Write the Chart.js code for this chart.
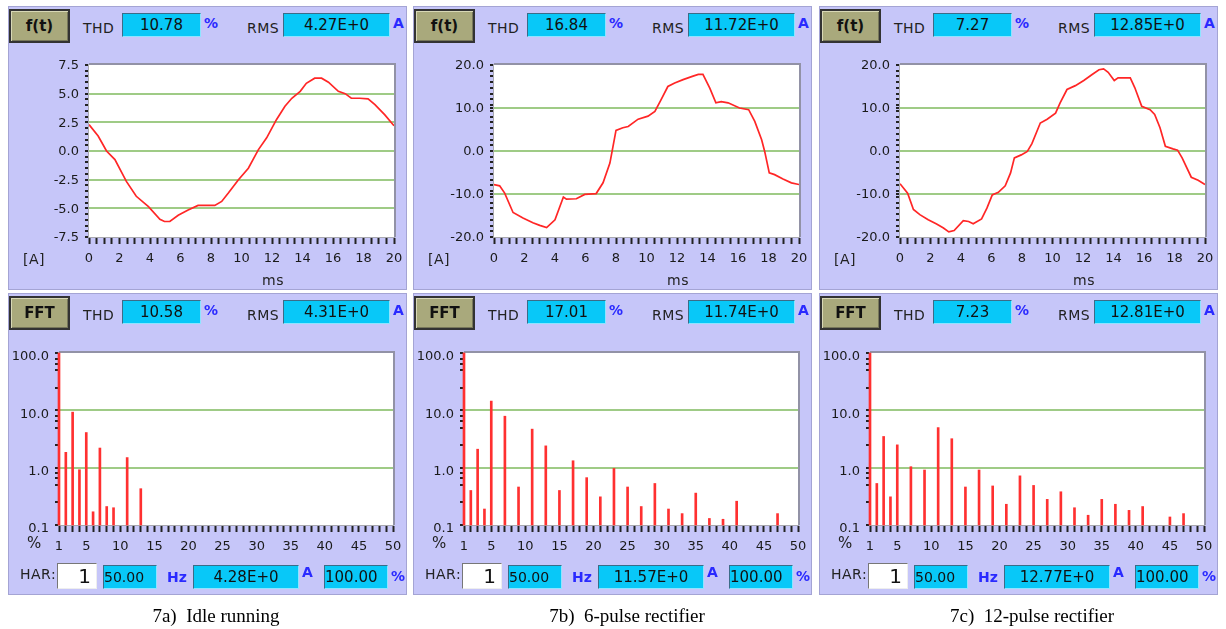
<!DOCTYPE html>
<html>
<head>
<meta charset="utf-8">
<script src="https://cdn.jsdelivr.net/npm/chart.js@4.4.1/dist/chart.umd.min.js"></script>
<style>
  html, body { margin: 0; padding: 0; background: #fff; }
  body { width: 1226px; height: 629px; position: relative; overflow: hidden; font-family: "DejaVu Sans", sans-serif; }
  .panel { position: absolute; width: 399px; background: #c6c6f9; box-shadow: inset 0 0 0 1px #a4a4d4; }
  .panel div { position: absolute; white-space: nowrap; }
  .panel canvas { position: absolute; left: 0; }
  .btn { background: #a9a97c; border: 2px solid #333; box-sizing: border-box; font-weight: bold; font-size: 15px;
         text-align: center; color: #111; box-shadow: inset 1px 1px 0 #d8d8b6, inset -1px -1px 0 #77775a; }
  .lbl { font-size: 14px; color: #222; letter-spacing: 0.5px; }
  .val { background: #08c8f8; box-sizing: border-box; border: 1px solid; border-color: #3b6c88 #8ee4ff #8ee4ff #3b6c88;
         font-size: 15px; color: #111; text-align: center; }
  .unit { font-size: 14px; color: #2a2aff; font-weight: bold; }
  .inp { background: #fff; box-sizing: border-box; border: 1px solid; border-color: #777 #eee #eee #777;
         font-size: 20px; text-align: right; padding-right: 5px; color: #111; }
  .cap { position: absolute; font-family: "Liberation Serif", "Times New Roman", serif; font-size: 19px; color: #000;
         transform: translateX(-50%); white-space: pre; }
</style>
</head>
<body>
<script>
// ---- measured current waveforms, one period (time in ms, current in A) ----
const idleTime = [0, 0.6, 1.15, 1.7, 2.45, 3.1, 3.9, 4.65, 4.95, 5.3, 5.85, 6.5, 7.15, 7.7, 8.25, 8.7, 9.15, 9.8,
  10.45, 11.1, 11.65, 12.3, 12.85, 13.3, 13.85, 14.25, 14.8, 15.25, 15.7, 16.35, 16.8, 17.2, 17.75, 18.3, 18.75, 19.4, 20];
const idleCurrent = [2.3, 1.3, 0.0, -0.75, -2.65, -3.95, -4.85, -5.95, -6.15, -6.15, -5.6, -5.15, -4.75, -4.75, -4.75, -4.4, -3.65, -2.5,
  -1.5, 0.1, 1.15, 2.75, 3.9, 4.6, 5.2, 5.9, 6.35, 6.35, 6.0, 5.2, 5.0, 4.6, 4.6, 4.55, 4.05, 3.15, 2.2];

const sixPulseTime = [0, 0.37, 0.7, 1.25, 1.9, 2.55, 3.0, 3.45, 4.0, 4.55, 4.75, 5.4, 5.95, 6.7, 7.15, 7.6, 8.0, 8.45, 8.8,
  9.45, 10.1, 10.55, 10.95, 11.4, 11.85, 12.4, 13.05, 13.4, 13.7, 14.15, 14.55, 14.9, 15.35, 16.1, 16.7, 17.1, 17.55,
  17.75, 18.05, 18.4, 18.95, 19.5, 20];
const sixPulseCurrent = [-7.8, -8.1, -9.8, -14.3, -15.6, -16.7, -17.3, -17.8, -16.0, -10.7, -11.2, -11.1, -10.1, -9.9, -7.4, -2.8, 4.8, 5.4, 5.7,
  7.4, 8.1, 9.2, 11.9, 15.0, 15.8, 16.6, 17.4, 17.8, 17.8, 14.6, 11.2, 11.5, 11.2, 10.0, 9.6, 6.9, 2.6,
  -0.1, -5.1, -5.5, -6.5, -7.4, -7.8];

const twelvePulseTime = [0, 0.5, 0.88, 1.3, 1.85, 2.4, 2.85, 3.2, 3.55, 4.15, 4.5, 4.8, 5.35, 5.7, 6.05, 6.45, 6.9, 7.25,
  7.5, 7.95, 8.35, 8.65, 9.2, 9.65, 10.2, 10.5, 10.95, 11.5, 12.05, 12.6, 13.05, 13.35, 13.65, 14.05, 14.3, 15.1, 15.4,
  15.85, 16.4, 16.7, 17.05, 17.4, 17.9, 18.2, 18.5, 19.1, 19.55, 20];
const twelvePulseCurrent = [-7.6, -9.8, -13.6, -14.8, -16.0, -17.0, -17.9, -18.8, -18.5, -16.2, -16.4, -16.9, -15.8, -13.3, -10.2, -9.6, -8.1, -5.1,
  -1.6, -0.9, -0.1, 1.7, 6.5, 7.4, 8.8, 11.2, 14.3, 15.2, 16.4, 17.8, 18.9, 19.1, 18.3, 16.4, 17.0, 17.0, 14.7,
  10.4, 9.6, 8.5, 5.4, 1.1, 0.5, 0.2, -1.6, -6.1, -6.8, -7.8];

// ---- harmonic spectra (order, level in % of fundamental) ----
const idleOrders = [1, 2, 3, 4, 5, 6, 7, 8, 9, 11, 13];
const idleLevels = [100, 1.85, 9.3, 0.92, 4.1, 0.17, 2.2, 0.21, 0.2, 1.5, 0.43];

const sixPulseOrders = [1, 2, 3, 4, 5, 7, 9, 11, 13, 15, 17, 19, 21, 23, 25, 27, 29, 31, 33, 35, 37, 39, 41, 47];
const sixPulseLevels = [100, 0.40, 2.1, 0.19, 14.5, 7.9, 0.46, 4.7, 2.4, 0.40, 1.32, 0.67, 0.31, 0.97, 0.46, 0.21, 0.53, 0.19, 0.158, 0.36, 0.13, 0.126, 0.26, 0.158];

const twelvePulseOrders = [1, 2, 3, 4, 5, 7, 9, 11, 13, 15, 17, 19, 21, 23, 25, 27, 29, 31, 33, 35, 37, 39, 41, 45, 47];
const twelvePulseLevels = [100, 0.53, 3.5, 0.31, 2.5, 1.04, 0.91, 5.0, 3.2, 0.46, 0.91, 0.48, 0.23, 0.72, 0.49, 0.28, 0.38, 0.2, 0.148, 0.28, 0.23, 0.18, 0.21, 0.138, 0.158];

// ---- instrument readouts ----
const captions = ['7a)  Idle running', '7b)  6-pulse rectifier', '7c)  12-pulse rectifier'];
const waveThd = ['10.78', '16.84', '7.27'];
const waveRms = ['4.27E+0', '11.72E+0', '12.85E+0'];
const spectrumThd = ['10.58', '17.01', '7.23'];
const spectrumRms = ['4.31E+0', '11.74E+0', '12.81E+0'];
const harmonicAmp = ['4.28E+0', '11.57E+0', '12.77E+0'];
const harmonicNo = ['1', '1', '1'];
const harmonicFreq = ['50.00', '50.00', '50.00'];
const harmonicPct = ['100.00', '100.00', '100.00'];

// ---- axis ticks ----
const waveFullScale = [7.5, 20, 20];
const waveLabelStep = [2.5, 10, 10];
const timeTicks = Array.from({ length: 41 }, (_, i) => i * 0.5);
const timeLabels = [0, 2, 4, 6, 8, 10, 12, 14, 16, 18, 20];
const orderTicks = Array.from({ length: 50 }, (_, i) => i + 1);
const orderLabels = [1, 5, 10, 15, 20, 25, 30, 35, 40, 45, 50];
const levelTicks = [0.1, 0.25, 0.5, 0.65, 0.8, 1, 2.5, 5, 6.5, 8, 10, 25, 50, 65, 80, 100];
const levelLabels = [0.1, 1, 10, 100];

const waveSets = [[idleTime, idleCurrent], [sixPulseTime, sixPulseCurrent], [twelvePulseTime, twelvePulseCurrent]];
const spectrumSets = [[idleOrders, idleLevels], [sixPulseOrders, sixPulseLevels], [twelvePulseOrders, twelvePulseLevels]];

// ---- layout ----
const PANEL_LEFT = [8, 413, 819];
const CAPTION_X = [216, 627, 1032];

Chart.defaults.font.family = '"DejaVu Sans", sans-serif';
Chart.defaults.font.size = 13;
Chart.defaults.color = '#1a1a1a';

const near = (a, b) => Math.abs(a - b) < 1e-6;
const inList = (list, v) => list.some(m => near(m, v));
const GRID_GREEN = '#9fcb86';
const NONE = 'rgba(0,0,0,0)';

// white plotting field with its frame
const plotFrame = {
  id: 'plotFrame',
  beforeDraw(chart) {
    const { ctx, chartArea: a } = chart;
    ctx.save();
    ctx.fillStyle = '#fff';
    ctx.fillRect(a.left, a.top, a.right - a.left, a.bottom - a.top);
    ctx.restore();
  },
  beforeDatasetsDraw(chart) {
    const { ctx, chartArea: a } = chart;
    ctx.save();
    ctx.strokeStyle = '#a8a8b0';
    ctx.lineWidth = 1;
    ctx.strokeRect(a.left - 0.5, a.top - 0.5, a.right - a.left + 1, a.bottom - a.top + 1);
    ctx.strokeStyle = '#9292a6';
    ctx.lineWidth = 2;
    ctx.beginPath();
    ctx.moveTo(a.left, a.top - 1);
    ctx.lineTo(a.right + 1, a.top - 1);
    ctx.lineTo(a.right + 1, a.bottom);
    ctx.stroke();
    ctx.restore();
  }
};

const baseOptions = {
  responsive: false,
  animation: false,
  events: [],
  plugins: { legend: { display: false }, tooltip: { enabled: false } }
};

// bottom-axis tick marks: a short dash just under the frame; long tick length pushes the labels down
const bottomTicks = { drawOnChartArea: false, tickLength: 10, tickWidth: 2, tickColor: '#222', tickBorderDash: [0, 1, 6, 20] };

function drawWave(canvas, times, amps, full, step) {
  const isMajor = v => near(v / step, Math.round(v / step));
  // 30 fine divisions over the full span, plus every labelled value
  const yTicks = Array.from({ length: 31 }, (_, i) => +((i - 15) * full / 15).toFixed(6));
  for (let v = -full; v <= full + 1e-9; v += step) {
    const r = +v.toFixed(6);
    if (!inList(yTicks, r)) yTicks.push(r);
  }
  yTicks.sort((a, b) => a - b);
  new Chart(canvas, {
    type: 'line',
    data: {
      datasets: [{
        data: times.map((t, i) => ({ x: t, y: amps[i] })),
        borderColor: '#ff2626', borderWidth: 1.7, pointRadius: 0, tension: 0, fill: false
      }]
    },
    options: Object.assign({}, baseOptions, {
      layout: { padding: { top: 14, right: 13, left: 0, bottom: 0 } },
      scales: {
        x: {
          type: 'linear', min: 0, max: 20,
          afterBuildTicks: s => { s.ticks = timeTicks.map(v => ({ value: v })); },
          afterFit: s => { s.height = 53; },
          border: { display: false },
          grid: bottomTicks,
          ticks: { autoSkip: false, maxRotation: 0, padding: 4, callback: v => inList(timeLabels, v) ? String(v) : '' }
        },
        y: {
          type: 'linear', min: -full, max: full,
          afterBuildTicks: s => { s.ticks = yTicks.map(v => ({ value: v })); },
          afterFit: s => { s.width = 81; },
          border: { display: false },
          grid: {
            color: c => (isMajor(c.tick.value) && Math.abs(c.tick.value) < full - 1e-6) ? GRID_GREEN : NONE,
            lineWidth: 2, tickLength: 7, tickWidth: 2, tickColor: '#222', tickBorderDash: [0, 3, 4, 20]
          },
          ticks: { autoSkip: false, padding: 3, labelOffset: 1, callback: v => isMajor(v) ? v.toFixed(1) : '' }
        }
      }
    }),
    plugins: [plotFrame]
  });
}

function drawSpectrum(canvas, orders, levels) {
  new Chart(canvas, {
    type: 'bar',
    data: {
      datasets: [{
        data: orders.map((h, i) => ({ x: h, y: levels[i] })),
        backgroundColor: '#ff3030', barThickness: 2, clip: false
      }]
    },
    options: Object.assign({}, baseOptions, {
      layout: { padding: { top: 15, right: 14, left: 0, bottom: 0 } },
      scales: {
        x: {
          type: 'linear', min: 1, max: 50, offset: false,
          afterBuildTicks: s => { s.ticks = orderTicks.map(v => ({ value: v })); },
          afterFit: s => { s.height = 30; },
          border: { display: false },
          grid: Object.assign({ offset: false }, bottomTicks),
          ticks: { autoSkip: false, maxRotation: 0, padding: 4, callback: v => inList(orderLabels, v) ? String(v) : '' }
        },
        y: {
          type: 'logarithmic', min: 0.1, max: 100, beginAtZero: false,
          afterBuildTicks: s => { s.ticks = levelTicks.map(v => ({ value: v })); },
          afterFit: s => { s.width = 51; },
          border: { display: false },
          grid: {
            color: c => (near(c.tick.value, 1) || near(c.tick.value, 10)) ? GRID_GREEN : NONE,
            lineWidth: 2, tickLength: 7, tickWidth: 2, tickColor: '#222', tickBorderDash: [0, 3, 4, 20]
          },
          ticks: { autoSkip: false, padding: 3, labelOffset: 4, callback: v => inList(levelLabels, v) ? v.toFixed(1) : '' }
        }
      }
    }),
    plugins: [plotFrame]
  });
}

function put(parent, cls, text, x, y, w, h, lh) {
  const d = document.createElement('div');
  d.className = cls;
  if (text != null) d.textContent = text;
  d.style.left = x + 'px';
  d.style.top = y + 'px';
  if (w != null) d.style.width = w + 'px';
  if (h != null) { d.style.height = h + 'px'; d.style.lineHeight = (lh != null ? lh : h) + 'px'; }
  parent.appendChild(d);
  return d;
}

function header(panel, title, thd, rms) {
  put(panel, 'btn', title, 1, 3, 61, 34, 30);
  put(panel, 'lbl', 'THD', 75, 12, null, 20);
  put(panel, 'val', thd, 114, 7, 79, 24, 22);
  put(panel, 'unit', '%', 196, 9, null, 16);
  put(panel, 'lbl', 'RMS', 239, 12, null, 20);
  put(panel, 'val', rms, 275, 7, 107, 24, 22);
  put(panel, 'unit', 'A', 385, 9, null, 16);
}

for (let k = 0; k < 3; k++) {
  // time-domain panel
  const top = document.createElement('div');
  top.className = 'panel';
  top.style.left = PANEL_LEFT[k] + 'px';
  top.style.top = '6px';
  top.style.height = '284px';
  document.body.appendChild(top);
  header(top, 'f(t)', waveThd[k], waveRms[k]);
  const c1 = document.createElement('canvas');
  c1.width = 399; c1.height = 239;
  c1.style.top = '45px';
  top.appendChild(c1);
  put(top, 'lbl', '[A]', 15, 244, null, 18);
  put(top, 'lbl', 'ms', 254, 265, null, 18);
  drawWave(c1, waveSets[k][0], waveSets[k][1], waveFullScale[k], waveLabelStep[k]);

  // spectrum panel
  const bot = document.createElement('div');
  bot.className = 'panel';
  bot.style.left = PANEL_LEFT[k] + 'px';
  bot.style.top = '293px';
  bot.style.height = '302px';
  document.body.appendChild(bot);
  header(bot, 'FFT', spectrumThd[k], spectrumRms[k]);
  const c2 = document.createElement('canvas');
  c2.width = 399; c2.height = 217;
  c2.style.top = '45px';
  bot.appendChild(c2);
  put(bot, 'lbl', '%', 19, 241, null, 18).style.fontSize = '15px';
  put(bot, 'lbl', 'HAR:', 12, 271, null, 20);
  put(bot, 'inp', harmonicNo[k], 49, 270, 40, 26, 24);
  const f = put(bot, 'val', harmonicFreq[k], 95, 272, 54, 24, 22);
  f.style.textAlign = 'left';
  f.style.fontSize = '14px';
  put(bot, 'unit', 'Hz', 159, 275, null, 18);
  put(bot, 'val', harmonicAmp[k], 185, 272, 106, 24, 22);
  put(bot, 'unit', 'A', 294, 271, null, 16);
  const p = put(bot, 'val', harmonicPct[k], 316, 272, 64, 24, 22);
  p.style.textAlign = 'left';
  put(bot, 'unit', '%', 383, 275, null, 16);
  drawSpectrum(c2, spectrumSets[k][0], spectrumSets[k][1]);

  const cap = document.createElement('div');
  cap.className = 'cap';
  cap.textContent = captions[k];
  cap.style.left = CAPTION_X[k] + 'px';
  cap.style.top = '605px';
  document.body.appendChild(cap);
}
</script>
</body>
</html>
